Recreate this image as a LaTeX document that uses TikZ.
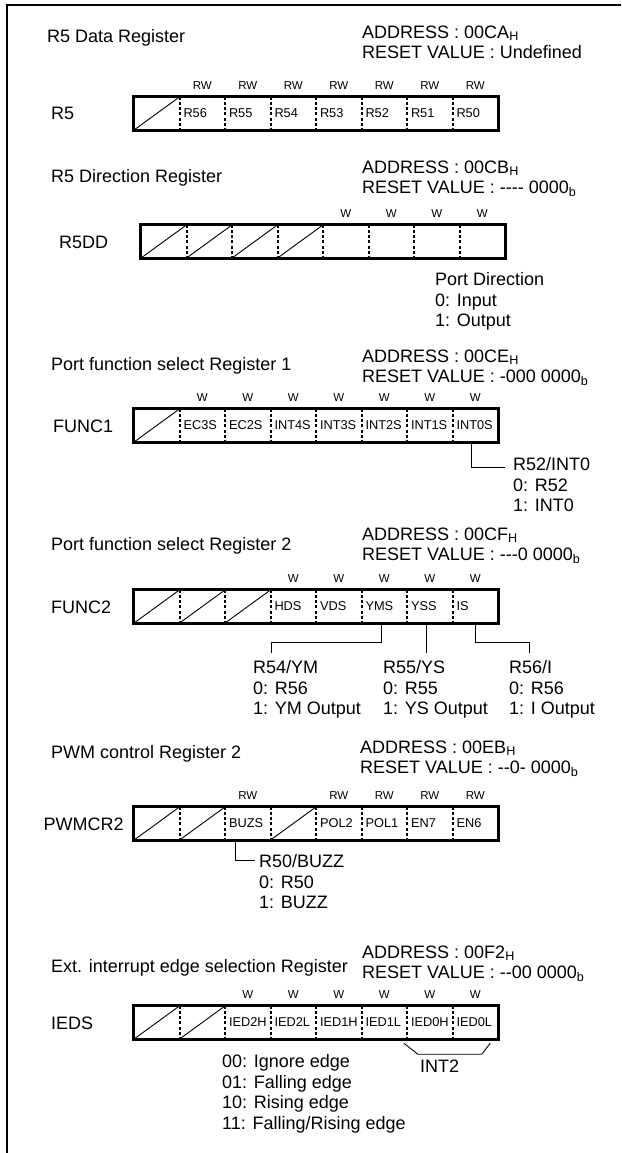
\documentclass[tikz,border=0pt]{standalone}
\usepackage{fontspec}
\setmainfont{Liberation Sans}[Ligatures=TeXOff]
\usepackage{tikz}
\usetikzlibrary{positioning,calc}

\begin{document}
\begin{tikzpicture}[
  x=1pt, y=-1pt,
  regtitle/.style={anchor=base west, inner sep=0, font=\fontsize{18pt}{20.5pt}\selectfont},
  reginfo/.style={anchor=north west, inner sep=0, align=left, font=\fontsize{18pt}{20.5pt}\selectfont},
  regname/.style={regtitle},
  bitcell/.style={inner xsep=4pt, inner ysep=0, minimum height=33pt, text width=37.5pt, align=left, font=\fontsize{12.8pt}{14pt}\selectfont},
  bitacc/.style={anchor=base, inner sep=0, font=\fontsize{11.5pt}{13pt}\selectfont},
  regbox/.style={draw, line width=3pt},
  bitsep/.style={dash pattern=on 3pt off 2.2pt, line width=1.7pt},
  bitslash/.style={line width=0.9pt},
  leader/.style={line width=0.9pt},
  pageframe/.style={line width=2pt}
]
\useasboundingbox (0,0) rectangle (621,1153);

% page frame
\draw[pageframe] (621,5) -- (7,5) -- (7,1153);

% R5 data register
\node[regtitle] (r5title) at (47,43) {R5 Data Register};
\node[reginfo] (r5info) at (362,25.5) {ADDRESS : 00CA\textsubscript{H}\\RESET VALUE : Undefined};
\node[regname] (r5name) at (51,120) {R5};
\foreach \i/\t in {0/{},1/R56,2/R55,3/R54,4/R53,5/R52,6/R51,7/R50}
  \node[bitcell] (r5-\i) at ({156.75+45.5*\i},113.5) {\t};
\foreach \i in {1,...,7}
  \node[bitacc] (r5-a\i) at ([yshift=7pt]r5-\i.north) {RW};
\foreach \i in {0,...,6}
  \draw[bitsep] (r5-\i.north east) -- (r5-\i.south east);
\draw[bitslash] (r5-0.south west) -- (r5-0.north east);
\draw[regbox] (r5-0.north west) rectangle (r5-7.south east);

% R5 direction register
\node[regtitle] (ddtitle) at (51,182) {R5 Direction Register};
\node[reginfo] (ddinfo) at (362,160.5) {ADDRESS : 00CB\textsubscript{H}\\RESET VALUE : ---- 0000\textsubscript{b}};
\node[regname] (ddname) at (59,248) {R5DD};
\foreach \i in {0,...,7}
  \node[bitcell] (dd-\i) at ({163.75+45.5*\i},241.5) {};
\foreach \i in {4,...,7}
  \node[bitacc] (dd-a\i) at ([yshift=7pt]dd-\i.north) {W};
\foreach \i in {0,...,6}
  \draw[bitsep] (dd-\i.north east) -- (dd-\i.south east);
\foreach \i in {0,...,3}
  \draw[bitslash] (dd-\i.south west) -- (dd-\i.north east);
\draw[regbox] (dd-0.north west) rectangle (dd-7.south east);
\node[reginfo] (dddesc) at (435,272.5) {Port Direction\\0: Input\\1: Output};

% port function select register 1
\node[regtitle] (fatitle) at (51,370) {Port function select Register 1};
\node[reginfo] (fainfo) at (362,349.5) {ADDRESS : 00CE\textsubscript{H}\\RESET VALUE : -000 0000\textsubscript{b}};
\node[regname] (faname) at (53,432) {FUNC1};
\foreach \i/\t in {0/{},1/EC3S,2/EC2S,3/INT4S,4/INT3S,5/INT2S,6/INT1S,7/INT0S}
  \node[bitcell] (fa-\i) at ({156.75+45.5*\i},425.5) {\t};
\foreach \i in {1,...,7}
  \node[bitacc] (fa-a\i) at ([yshift=7pt]fa-\i.north) {W};
\foreach \i in {0,...,6}
  \draw[bitsep] (fa-\i.north east) -- (fa-\i.south east);
\draw[bitslash] (fa-0.south west) -- (fa-0.north east);
\draw[regbox] (fa-0.north west) rectangle (fa-7.south east);
\node[reginfo] (fadesc) at (513,457.5) {R52/INT0\\0: R52\\1: INT0};
\coordinate (faend) at ([xshift=-8pt,yshift=-9.5pt]fadesc.north west);
\draw[leader] ([xshift=-4pt]fa-7.south) |- (faend);

% port function select register 2
\node[regtitle] (fbtitle) at (51,550) {Port function select Register 2};
\node[reginfo] (fbinfo) at (362,527.5) {ADDRESS : 00CF\textsubscript{H}\\RESET VALUE : ---0 0000\textsubscript{b}};
\node[regname] (fbname) at (51,613) {FUNC2};
\foreach \i/\t in {0/{},1/{},2/{},3/HDS,4/VDS,5/YMS,6/YSS,7/IS}
  \node[bitcell] (fb-\i) at ({156.75+45.5*\i},606.5) {\t};
\foreach \i in {3,...,7}
  \node[bitacc] (fb-a\i) at ([yshift=7pt]fb-\i.north) {W};
\foreach \i in {0,...,6}
  \draw[bitsep] (fb-\i.north east) -- (fb-\i.south east);
\foreach \i in {0,...,2}
  \draw[bitslash] (fb-\i.south west) -- (fb-\i.north east);
\draw[regbox] (fb-0.north west) rectangle (fb-7.south east);
\node[reginfo] (ymdesc) at (253,660.5) {R54/YM\\0: R56\\1: YM Output};
\node[reginfo] (ysdesc) at (383,660.5) {R55/YS\\0: R55\\1: YS Output};
\node[reginfo] (isdesc) at (509,660.5) {R56/I\\0: R56\\1: I Output};
\coordinate (ymend) at ([xshift=18pt,yshift=7.5pt]ymdesc.north west);
\coordinate (ysend) at ([xshift=43.75pt,yshift=7.5pt]ysdesc.north west);
\coordinate (isend) at ([xshift=20pt,yshift=7.5pt]isdesc.north west);
\draw[leader] ([xshift=-3pt]fb-5.south) |- ([yshift=11pt]ymend) -- (ymend);
\draw[leader] ([xshift=-3pt]fb-6.south) -- (ysend);
\draw[leader] (fb-7.south) |- ([yshift=11pt]isend) -- (isend);

% PWM control register 2
\node[regtitle] (pwtitle) at (51,758) {PWM control Register 2};
\node[reginfo] (pwinfo) at (360,740.5) {ADDRESS : 00EB\textsubscript{H}\\RESET VALUE : --0- 0000\textsubscript{b}};
\node[regname] (pwname) at (43.5,830) {PWMCR2};
\foreach \i/\t in {0/{},1/{},2/BUZS,3/{},4/POL2,5/POL1,6/EN7,7/EN6}
  \node[bitcell] (pw-\i) at ({156.75+45.5*\i},823.5) {\t};
\foreach \i in {2,4,5,6,7}
  \node[bitacc] (pw-a\i) at ([yshift=7pt]pw-\i.north) {RW};
\foreach \i in {0,...,6}
  \draw[bitsep] (pw-\i.north east) -- (pw-\i.south east);
\foreach \i in {0,1,3}
  \draw[bitslash] (pw-\i.south west) -- (pw-\i.north east);
\draw[regbox] (pw-0.north west) rectangle (pw-7.south east);
\node[reginfo] (pwdesc) at (259,854.5) {R50/BUZZ\\0: R50\\1: BUZZ};
\coordinate (pwend) at ([xshift=-4pt,yshift=-5.5pt]pwdesc.north west);
\draw[leader] ([xshift=-12pt]pw-2.south) |- (pwend);

% ext. interrupt edge selection register
\node[regtitle] (ietitle) at (51,972) {Ext. interrupt edge selection Register};
\node[reginfo] (ieinfo) at (362,945.5) {ADDRESS : 00F2\textsubscript{H}\\RESET VALUE : --00 0000\textsubscript{b}};
\node[regname] (iename) at (51,1029) {IEDS};
\foreach \i/\t in {0/{},1/{},2/IED2H,3/IED2L,4/IED1H,5/IED1L,6/IED0H,7/IED0L}
  \node[bitcell] (ie-\i) at ({156.75+45.5*\i},1022.5) {\t};
\foreach \i in {2,...,7}
  \node[bitacc] (ie-a\i) at ([yshift=7pt]ie-\i.north) {W};
\foreach \i in {0,...,6}
  \draw[bitsep] (ie-\i.north east) -- (ie-\i.south east);
\foreach \i in {0,1}
  \draw[bitslash] (ie-\i.south west) -- (ie-\i.north east);
\draw[regbox] (ie-0.north west) rectangle (ie-7.south east);
\draw[leader] ([shift={(-3pt,-4pt)}]ie-6.south west) -- ++(14,11) -- ++(64,0)
  -- ([shift={(-8pt,-4pt)}]ie-7.south east);
\node[regtitle] (int2) at (420,1072) {INT2};
\node[reginfo] (iedesc) at (222,1054.5) {00: Ignore edge\\01: Falling edge\\10: Rising edge\\11: Falling/Rising edge};

\end{tikzpicture}
\end{document}
